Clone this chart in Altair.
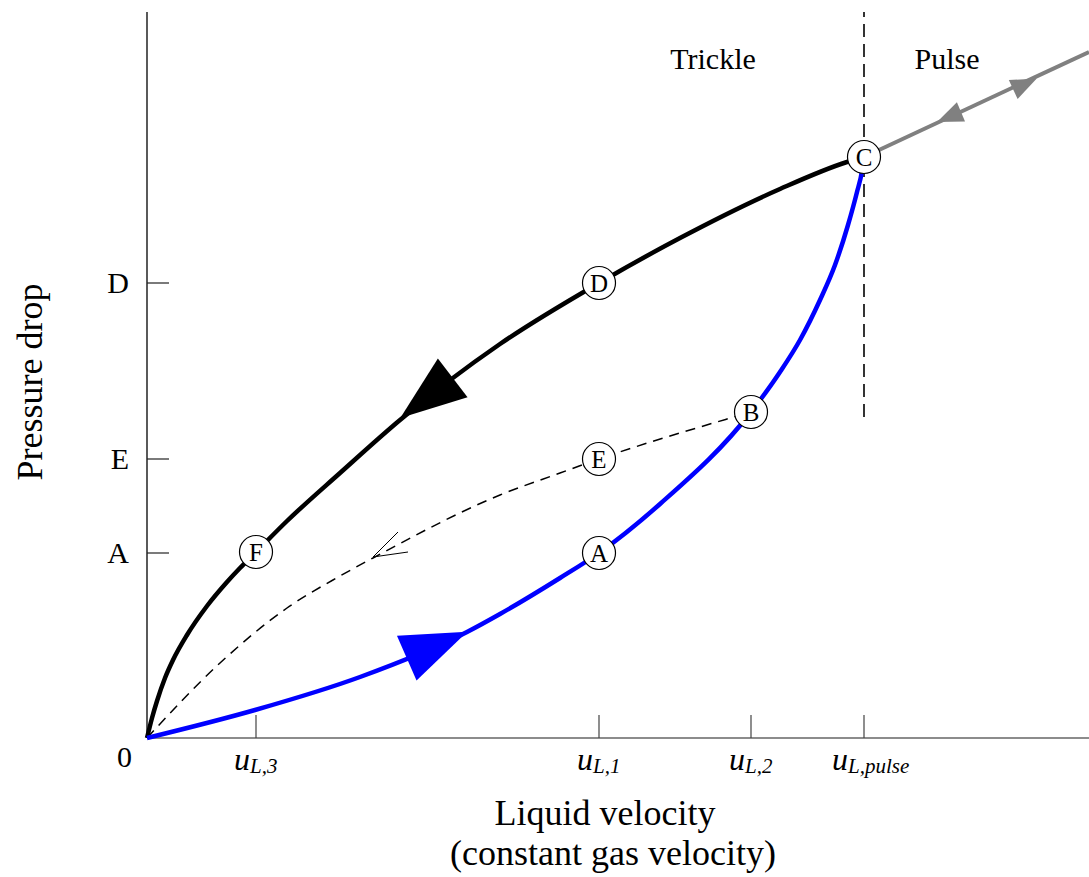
import altair as alt
import pandas as pd

FONT = "Liberation Serif"

# Liquid velocity u_L and pressure drop, arbitrary units
# Increasing-flow branch 0 -> A -> B -> C
up_u = [0.00, 1.08, 2.13, 3.20, 3.53, 4.13, 4.52, 5.13, 6.04, 6.33, 6.53, 6.73, 6.88, 7.01, 7.10, 7.15, 7.17]
up_dp = [0.00, 0.28, 0.61, 1.06, 1.24, 1.60, 1.85, 2.34, 3.26, 3.66, 3.98, 4.38, 4.73, 5.13, 5.46, 5.67, 5.81]
# Decreasing-flow branch C -> D -> F -> 0
down_u = [0.00, 0.05, 0.10, 0.18, 0.26, 0.40, 0.60, 0.80, 0.93, 1.09, 1.40, 1.93, 2.53, 3.53, 4.52, 5.33, 6.33, 7.00, 7.17]
down_dp = [0.00, 0.20, 0.37, 0.60, 0.78, 1.03, 1.32, 1.56, 1.70, 1.86, 2.17, 2.65, 3.18, 3.94, 4.55, 5.00, 5.49, 5.76, 5.81]
# Partial cycle B -> E -> 0
part_u = [0.00, 0.73, 1.40, 1.93, 2.26, 3.53, 4.13, 4.52, 5.80, 6.04]
part_dp = [0.00, 0.75, 1.30, 1.62, 1.80, 2.43, 2.65, 2.79, 3.19, 3.26]
# Pulse regime beyond C
pulse_u = [7.17, 9.42]
pulse_dp = [5.81, 6.86]

# Labelled states
pt_name = ["F", "D", "E", "A", "B", "C"]
pt_u = [1.09, 4.52, 4.52, 4.52, 6.04, 7.17]
pt_dp = [1.86, 4.55, 2.79, 1.85, 3.26, 5.81]

# Tick marks and their labels
xtick_u = [1.09, 4.52, 6.04, 7.17]
xtick_sub = ["L,3", "L,1", "L,2", "L,pulse"]
ytick_dp = [4.55, 2.79, 1.85]
ytick_lab = ["D", "E", "A"]

# Flow-direction arrowheads (centre, heading in degrees clockwise)
big_arrow_branch = ["down", "up"]
big_arrow_u = [2.795, 2.90]
big_arrow_dp = [3.40, 0.93]
big_arrow_angle = [142.6, 336.4]
small_arrow_u = [8.78, 8.02]
small_arrow_dp = [6.54, 6.21]
small_arrow_angle = [335.0, 157.0]
# Open arrowhead on the partial cycle: tip and two barb ends
vee_tip = (2.26, 1.81)
vee_u = [2.51, 2.61]
vee_dp = [2.06, 1.86]

# Regime boundary and region names
pulse_limit_u = 7.17
pulse_limit_dp = (3.21, 7.26)
region_name = ["Trickle", "Pulse"]
region_u = [5.66, 8.00]
region_dp = [6.69, 6.69]

U_MAX, DP_MAX = 9.42, 7.26
W, H = 942, 726
LEFT, TOP = 147, 12

xs = alt.Scale(domain=[0, U_MAX], nice=False, zero=False)
ys = alt.Scale(domain=[0, DP_MAX], nice=False, zero=False)


def X(f):
    return alt.X(f, type="quantitative", scale=xs, axis=None)


def Y(f):
    return alt.Y(f, type="quantitative", scale=ys, axis=None)


branch_colors = alt.Scale(domain=["down", "up", "pulse"], range=["#000000", "#0000ff", "#808080"])


def curve(u, dp):
    return pd.DataFrame({"u": u, "dp": dp})


# axis lines
x_axis = alt.Chart(pd.DataFrame({"u0": [0.0], "u1": [U_MAX], "dp": [0.0]})).mark_rule(
    color="#666666", strokeWidth=1.3
).encode(x=X("u0"), x2="u1", y=Y("dp"))
y_axis = alt.Chart(pd.DataFrame({"u": [0.0], "dp0": [0.0], "dp1": [DP_MAX]})).mark_rule(
    color="#000000", strokeWidth=1.3
).encode(x=X("u"), y=Y("dp0"), y2="dp1")

# inward tick marks
xt = pd.DataFrame({"u": xtick_u, "sub": xtick_sub})
xt["d0"] = 0.0
xt["d1"] = 0.23
x_ticks = alt.Chart(xt).mark_rule(color="#444444", strokeWidth=1.2).encode(
    x=X("u"), y=Y("d0"), y2="d1"
)
yt = pd.DataFrame({"dp": ytick_dp, "lab": ytick_lab})
yt["u0"] = 0.0
yt["u1"] = 0.22
y_ticks = alt.Chart(yt).mark_rule(color="#222222", strokeWidth=1.2).encode(
    x=X("u0"), x2="u1", y=Y("dp")
)

# tick labels
yt["lx"] = 0.0
y_labels = alt.Chart(yt).mark_text(
    font=FONT, fontSize=30, align="right", baseline="middle", dx=-18, dy=1, color="black"
).encode(x=X("lx"), y=Y("dp"), text="lab:N")
zero_label = alt.Chart(pd.DataFrame({"u": [0.0], "dp": [0.0], "t": ["0"]})).mark_text(
    font=FONT, fontSize=30, align="right", baseline="top", dx=-15, dy=5, color="black"
).encode(x=X("u"), y=Y("dp"), text="t:N")

xt["ly"] = 0.0
xt["u_"] = "u"
short = xt[xt["sub"] != "L,pulse"]
longl = xt[xt["sub"] == "L,pulse"]


def u_label(df, split):
    main = alt.Chart(df).mark_text(
        font=FONT, fontSize=32, fontStyle="italic", align="right", baseline="alphabetic",
        dx=split, dy=32, color="black"
    ).encode(x=X("u"), y=Y("ly"), text="u_:N")
    sub = alt.Chart(df).mark_text(
        font=FONT, fontSize=21, fontStyle="italic", align="left", baseline="alphabetic",
        dx=split, dy=35, color="black"
    ).encode(x=X("u"), y=Y("ly"), text="sub:N")
    return main + sub


x_labels = u_label(short, -6) + u_label(longl, -16)

# axis titles
x_title = alt.Chart(pd.DataFrame({
    "t": ["Liquid velocity", "(constant gas velocity)"],
    "px": [605 - LEFT, 613 - LEFT],
    "py": [825 - TOP, 865 - TOP],
})).mark_text(font=FONT, fontSize=36, align="center", baseline="alphabetic", color="black").encode(
    x=alt.X("px:Q", scale=None), y=alt.Y("py:Q", scale=None), text="t:N"
)
y_title = alt.Chart(pd.DataFrame({"t": ["Pressure drop"]})).mark_text(
    font=FONT, fontSize=36, align="center", baseline="middle", angle=270, color="black"
).encode(x=alt.value(31 - LEFT), y=alt.value(382 - TOP), text="t:N")

# regime boundary
boundary = alt.Chart(pd.DataFrame({"u": [pulse_limit_u], "d0": [pulse_limit_dp[0]], "d1": [pulse_limit_dp[1]]})).mark_rule(
    color="black", strokeWidth=1.6, strokeDash=[13, 7]
).encode(x=X("u"), y=Y("d0"), y2="d1")
regions = alt.Chart(pd.DataFrame({"t": region_name, "u": region_u, "dp": region_dp})).mark_text(
    font=FONT, fontSize=30, align="center", baseline="alphabetic", color="black"
).encode(x=X("u"), y=Y("dp"), text="t:N")

# curves
partial = alt.Chart(curve(part_u, part_dp)).mark_line(
    color="black", strokeWidth=1.5, strokeDash=[10, 7], interpolate="monotone"
).encode(x=X("u"), y=Y("dp"))
vee = pd.DataFrame({"u": vee_u, "dp": vee_dp})
vee["tu"] = vee_tip[0]
vee["tdp"] = vee_tip[1]
vee_marks = alt.Chart(vee).mark_rule(color="black", strokeWidth=1).encode(
    x=X("tu"), y=Y("tdp"), x2="u", y2="dp"
)

pulse_line = alt.Chart(curve(pulse_u, pulse_dp)).mark_line(
    color="#808080", strokeWidth=4
).encode(x=X("u"), y=Y("dp"))
down_line = alt.Chart(curve(down_u, down_dp)).mark_line(
    color="black", strokeWidth=4.5, interpolate="monotone"
).encode(x=X("u"), y=Y("dp"))
up_line = alt.Chart(curve(up_u, up_dp)).mark_line(
    color="#0000ff", strokeWidth=4.5, interpolate="monotone"
).encode(x=X("u"), y=Y("dp"))

ARROW = "M1,0L-1,-0.74L-1,0.74Z"
big_arrows = alt.Chart(pd.DataFrame({
    "branch": big_arrow_branch, "u": big_arrow_u, "dp": big_arrow_dp, "ang": big_arrow_angle
})).mark_point(shape=ARROW, filled=True, opacity=1, size=66 * 66, strokeWidth=0).encode(
    x=X("u"), y=Y("dp"), angle=alt.Angle("ang:Q", scale=None),
    color=alt.Color("branch:N", scale=branch_colors, legend=None)
)
small_arrows = alt.Chart(pd.DataFrame({
    "u": small_arrow_u, "dp": small_arrow_dp, "ang": small_arrow_angle
})).mark_point(shape="M1,0L-1,-0.8L-1,0.8Z", filled=True, opacity=1, size=26 * 26, strokeWidth=0,
               color="#808080").encode(
    x=X("u"), y=Y("dp"), angle=alt.Angle("ang:Q", scale=None)
)

pts = pd.DataFrame({"name": pt_name, "u": pt_u, "dp": pt_dp})
circles = alt.Chart(pts).mark_point(
    shape="circle", filled=True, fill="white", stroke="black", strokeWidth=1.2, size=33 * 33, opacity=1
).encode(x=X("u"), y=Y("dp"))
letters = alt.Chart(pts).mark_text(
    font=FONT, fontSize=25, align="center", baseline="middle", dy=1, color="black"
).encode(x=X("u"), y=Y("dp"), text="name:N")

chart = alt.layer(
    x_axis, y_axis, x_ticks, y_ticks, y_labels, zero_label, x_labels, x_title, y_title,
    boundary, regions, partial, vee_marks, pulse_line, down_line, up_line,
    big_arrows, small_arrows, circles, letters,
).properties(
    width=W, height=H,
    autosize=alt.AutoSizeParams(type="none"),
    padding={"left": LEFT, "top": TOP, "right": 0, "bottom": 877 - TOP - H},
    background="white",
).configure_view(stroke=None)

chart.save("out.html", embed_options={"renderer": "svg", "actions": False})
